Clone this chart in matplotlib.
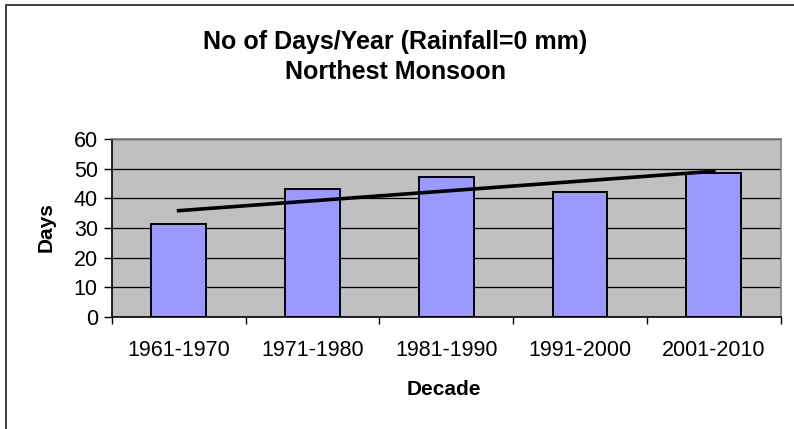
import numpy as np
import matplotlib
matplotlib.use('Agg')
import matplotlib.pyplot as plt
from matplotlib.patches import Rectangle

plt.rcParams['font.family'] = ['Liberation Sans', 'DejaVu Sans']

decades = ['1961-1970', '1971-1980', '1981-1990', '1991-2000', '2001-2010']
days = [31.4, 43.2, 47.3, 42.1, 48.6]
y_ticks = [0, 10, 20, 30, 40, 50, 60]

fig = plt.figure(figsize=(7.94, 4.29), dpi=100)
ax = fig.add_axes([0.1407, 0.2618, 0.8426, 0.4135])
ax.set_facecolor('#C0C0C0')

x = np.arange(len(decades))
ax.bar(x, days, width=0.41, color='#9999FF', edgecolor='black', linewidth=1.4, zorder=3)

# linear trendline like excel
slope, icpt = np.polyfit(x + 1, days, 1)
ax.plot([x[0], x[-1]], [slope * (x[0] + 1) + icpt, slope * (x[-1] + 1) + icpt],
        color='black', linewidth=2.6, zorder=4)

ax.set_xlim(-0.5, len(decades) - 0.5)
ax.set_ylim(0, 60)
ax.set_yticks(y_ticks)
ax.yaxis.grid(True, color='black', linewidth=0.9, zorder=1)
ax.set_axisbelow(True)

ax.set_xticks(x)
ax.set_xticklabels(decades)
ax.set_xticks(np.arange(-0.5, len(decades)), minor=True)
ax.tick_params(axis='x', which='major', length=0, pad=16.5, labelsize=15.5)
ax.tick_params(axis='x', which='minor', length=5, width=1, direction='out')
ax.tick_params(axis='y', length=6, width=1, pad=4, labelsize=15.5)

for side in ['top', 'right']:
    ax.spines[side].set_color('#808080')
    ax.spines[side].set_linewidth(1.2)
for side in ['left', 'bottom']:
    ax.spines[side].set_color('black')
    ax.spines[side].set_linewidth(1.2)

fig.text(46 / 794, 1 - 227 / 429, 'Days', fontsize=15, fontweight='bold',
         rotation=90, ha='center', va='center')
fig.text(444 / 794, 1 - 389.5 / 429, 'Decade', fontsize=15, fontweight='bold', ha='center', va='center')

fig.text(0.498, 1 - 42 / 429, 'No of Days/Year (Rainfall=0 mm)', fontsize=18,
         fontweight='bold', ha='center', va='center')
fig.text(0.498, 1 - 72 / 429, 'Northest Monsoon', fontsize=18,
         fontweight='bold', ha='center', va='center')

# chart area border, only left/top visible in the crop
fig.patches.append(Rectangle((5.5 / 794, -0.05), 1.2, 1 - 5.5 / 429 + 0.05,
                             transform=fig.transFigure, fill=False,
                             edgecolor='#303030', linewidth=1.3))

fig.savefig('out.png', dpi=100)
